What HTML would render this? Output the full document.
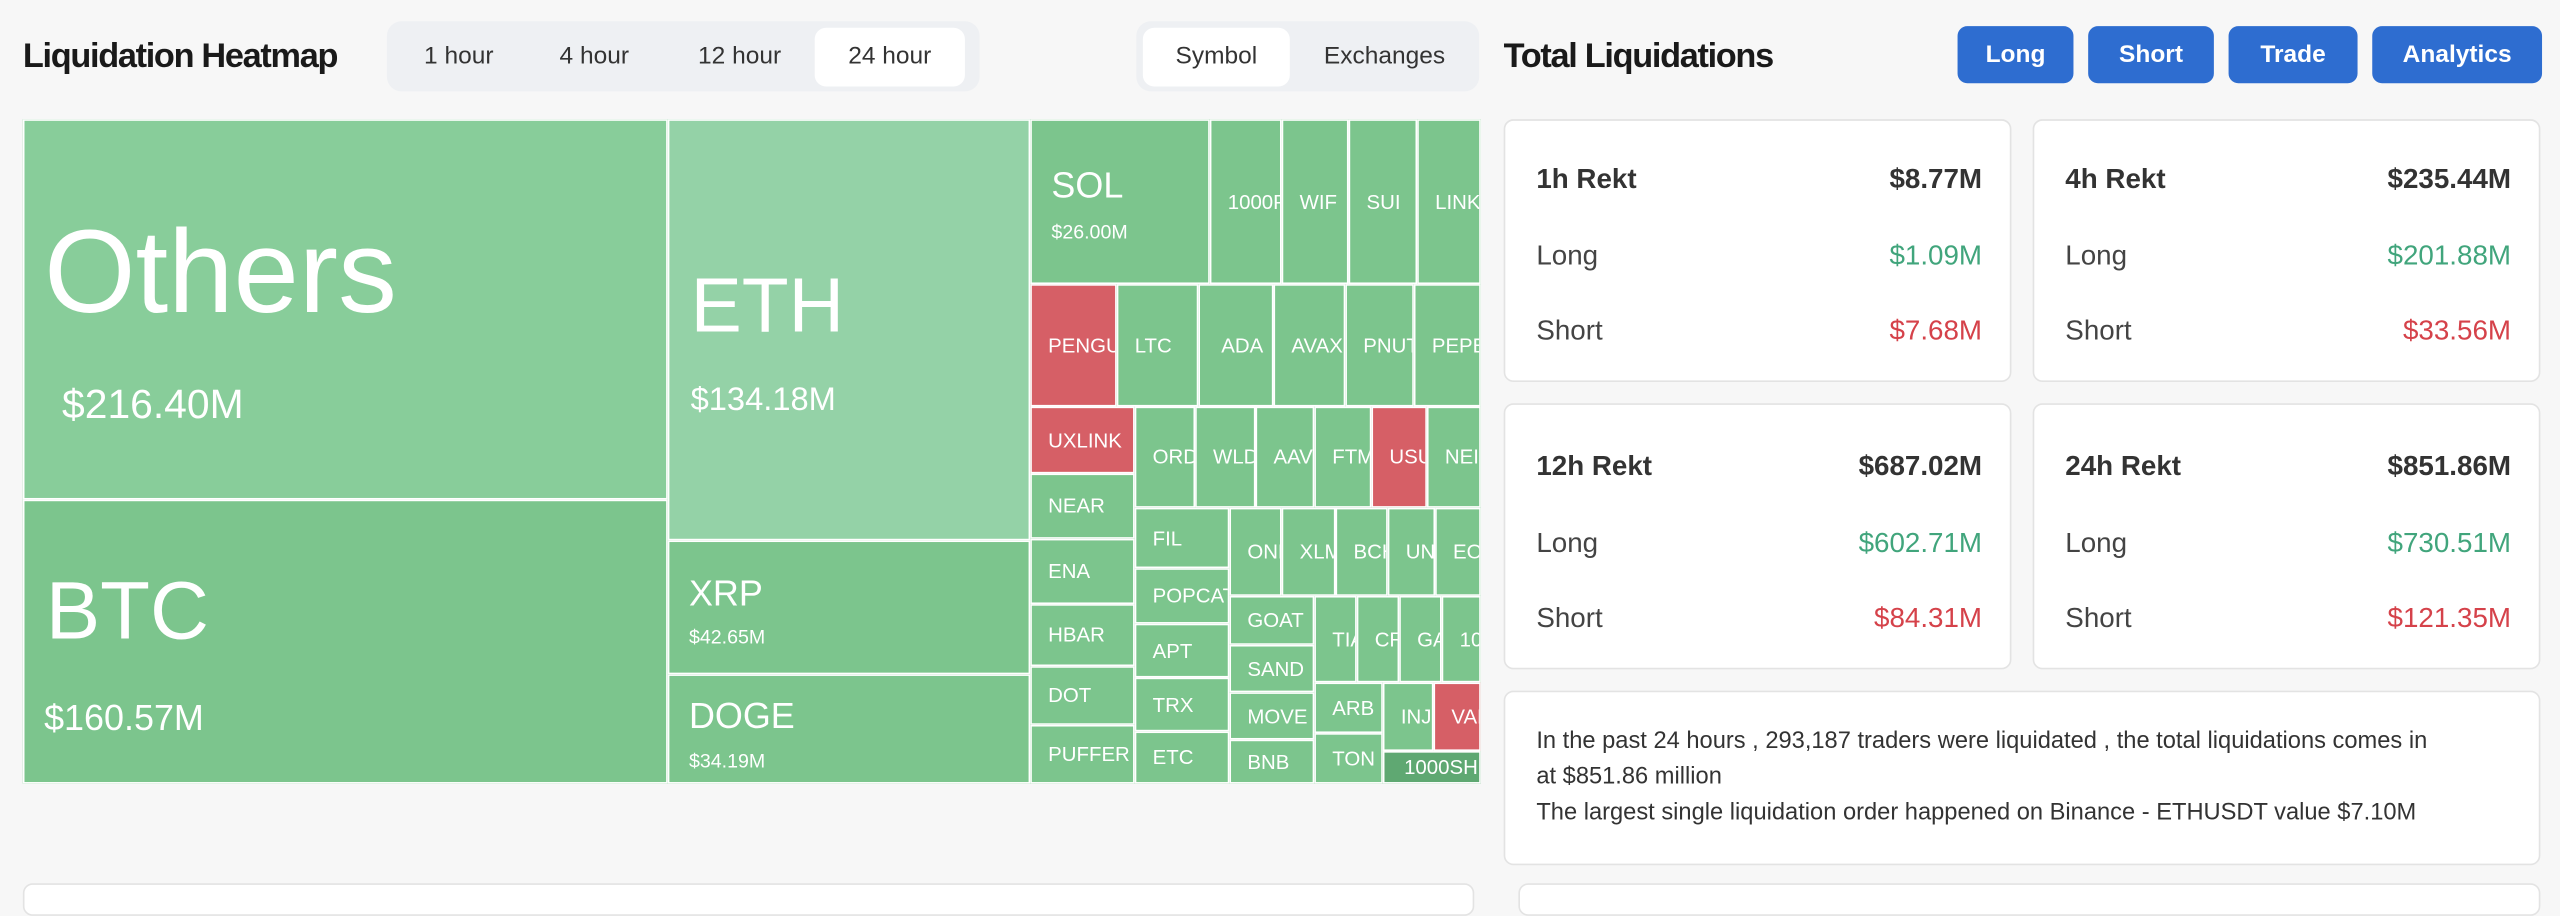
<!DOCTYPE html>
<html><head><meta charset="utf-8">
<style>
html,body{margin:0;padding:0;background:#f7f7f7;overflow:hidden}
#root{position:absolute;left:0;top:0;width:1568px;height:544px;transform:scale(1.632653);transform-origin:0 0;font-family:"Liberation Sans",sans-serif;color:#222;background:#f7f7f7}
.a{position:absolute}
.h{font-weight:bold;font-size:21px;letter-spacing:-0.8px;color:#1a1a1a}
.tabs{background:#eef0f3;border-radius:9px}
.tab{position:absolute;top:4px;height:36px;line-height:36px;text-align:center;font-size:15px;color:#333}
.act{background:#fff;border-radius:7px}
.btn{position:absolute;top:16px;height:35px;line-height:35px;background:#2e6dd0;color:#fff;font-weight:bold;font-size:15px;text-align:center;border-radius:6px}
.c{position:absolute;box-sizing:border-box;border:1px solid #fff;background:#7cc58d;color:#fff;overflow:hidden;white-space:nowrap;font-size:12.5px;padding-left:10px;display:flex;align-items:center}
.r{background:#d65f66}
.card{position:absolute;background:#fff;border:1px solid #e3e3e3;border-radius:6px;box-sizing:border-box}
.row{position:absolute;left:19px;right:17px;font-size:17px;color:#444;display:flex;justify-content:space-between}
.row b{font-weight:600;color:#333}
.g{color:#41a57c}.rd{color:#d5424a}
</style></head><body><div id="root">
<div class="a h" style="left:14px;top:23px">Liquidation Heatmap</div>
<div class="a tabs" style="left:237px;top:13px;width:363px;height:43px">
 <div class="tab" style="left:6px;width:76px">1 hour</div>
 <div class="tab" style="left:89px;width:76px">4 hour</div>
 <div class="tab" style="left:176px;width:80px">12 hour</div>
 <div class="tab act" style="left:262px;width:92px">24 hour</div>
</div>
<div class="a tabs" style="left:696px;top:13px;width:210px;height:43px">
 <div class="tab act" style="left:4px;width:90px">Symbol</div>
 <div class="tab" style="left:98px;width:108px">Exchanges</div>
</div>
<div class="a h" style="left:921px;top:23px">Total Liquidations</div>
<div class="btn" style="left:1199px;width:71px">Long</div>
<div class="btn" style="left:1279px;width:77px">Short</div>
<div class="btn" style="left:1365px;width:79px">Trade</div>
<div class="btn" style="left:1453px;width:104px">Analytics</div>

<div class="a" style="left:14px;top:73px;width:893px;height:407px;background:#7cc58d"></div>
<div class="c" style="left:14px;top:73px;width:395px;height:233px;background:#88cd9a;display:block;padding:0">
 <div class="a" style="left:12px;top:52px;font-size:72px">Others</div>
 <div class="a" style="left:23px;top:160px;font-size:25px">$216.40M</div></div>
<div class="c" style="left:14px;top:306px;width:395px;height:174px;display:block;padding:0">
 <div class="a" style="left:13px;top:38px;font-size:50px">BTC</div>
 <div class="a" style="left:12px;top:120px;font-size:22px">$160.57M</div></div>
<div class="c" style="left:409px;top:73px;width:222px;height:258px;background:#94d2a7;display:block;padding:0">
 <div class="a" style="left:13px;top:85px;font-size:47px">ETH</div>
 <div class="a" style="left:13px;top:160px;font-size:20px">$134.18M</div></div>
<div class="c" style="left:409px;top:331px;width:222px;height:82px;display:block;padding:0">
 <div class="a" style="left:12px;top:19px;font-size:22px">XRP</div>
 <div class="a" style="left:12px;top:51px;font-size:12px">$42.65M</div></div>
<div class="c" style="left:409px;top:413px;width:222px;height:67px;display:block;padding:0">
 <div class="a" style="left:12px;top:12px;font-size:22px">DOGE</div>
 <div class="a" style="left:12px;top:45px;font-size:12px">$34.19M</div></div>
<div class="c" style="left:631px;top:73px;width:110px;height:101px;display:block;padding:0">
 <div class="a" style="left:12px;top:27px;font-size:22px">SOL</div>
 <div class="a" style="left:12px;top:61px;font-size:12px">$26.00M</div></div>
<div class="c" style="left:741px;top:73px;width:44px;height:101px">1000PEPE</div>
<div class="c" style="left:785px;top:73px;width:41px;height:101px">WIF</div>
<div class="c" style="left:826px;top:73px;width:42px;height:101px">SUI</div>
<div class="c" style="left:868px;top:73px;width:39px;height:101px">LINK</div>
<div class="c r" style="left:631px;top:174px;width:53px;height:75px">PENGU</div>
<div class="c" style="left:684px;top:174px;width:50px;height:75px">LTC</div>
<div class="c" style="left:734px;top:174px;width:46px;height:75px;padding-left:13px">ADA</div>
<div class="c" style="left:780px;top:174px;width:44px;height:75px">AVAX</div>
<div class="c" style="left:824px;top:174px;width:42px;height:75px">PNUT</div>
<div class="c" style="left:866px;top:174px;width:41px;height:75px">PEPE</div>
<div class="c r" style="left:631px;top:249px;width:64px;height:41px">UXLINK</div>
<div class="c" style="left:631px;top:290px;width:64px;height:40px">NEAR</div>
<div class="c" style="left:631px;top:330px;width:64px;height:40px">ENA</div>
<div class="c" style="left:631px;top:370px;width:64px;height:38px">HBAR</div>
<div class="c" style="left:631px;top:408px;width:64px;height:36px">DOT</div>
<div class="c" style="left:631px;top:444px;width:64px;height:36px">PUFFER</div>
<div class="c" style="left:695px;top:249px;width:37px;height:62px">ORDI</div>
<div class="c" style="left:732px;top:249px;width:37px;height:62px">WLD</div>
<div class="c" style="left:769px;top:249px;width:36px;height:62px">AAVE</div>
<div class="c" style="left:805px;top:249px;width:35px;height:62px">FTM</div>
<div class="c r" style="left:840px;top:249px;width:34px;height:62px">USUAL</div>
<div class="c" style="left:874px;top:249px;width:33px;height:62px">NEIRO</div>
<div class="c" style="left:695px;top:311px;width:58px;height:37px">FIL</div>
<div class="c" style="left:695px;top:348px;width:58px;height:34px">POPCAT</div>
<div class="c" style="left:695px;top:382px;width:58px;height:33px">APT</div>
<div class="c" style="left:695px;top:415px;width:58px;height:33px">TRX</div>
<div class="c" style="left:695px;top:448px;width:58px;height:32px">ETC</div>
<div class="c" style="left:753px;top:311px;width:32px;height:54px">ONDO</div>
<div class="c" style="left:785px;top:311px;width:33px;height:54px">XLM</div>
<div class="c" style="left:818px;top:311px;width:32px;height:54px">BCH</div>
<div class="c" style="left:850px;top:311px;width:29px;height:54px">UNI</div>
<div class="c" style="left:879px;top:311px;width:28px;height:54px">EOS</div>
<div class="c" style="left:753px;top:365px;width:52px;height:30px">GOAT</div>
<div class="c" style="left:753px;top:395px;width:52px;height:29px">SAND</div>
<div class="c" style="left:753px;top:424px;width:52px;height:29px">MOVE</div>
<div class="c" style="left:753px;top:453px;width:52px;height:27px">BNB</div>
<div class="c" style="left:805px;top:365px;width:26px;height:53px">TIA</div>
<div class="c" style="left:831px;top:365px;width:26px;height:53px">CRV</div>
<div class="c" style="left:857px;top:365px;width:26px;height:53px">GALA</div>
<div class="c" style="left:883px;top:365px;width:24px;height:53px">1000SATS</div>
<div class="c" style="left:805px;top:418px;width:42px;height:31px">ARB</div>
<div class="c" style="left:805px;top:449px;width:42px;height:31px">TON</div>
<div class="c" style="left:847px;top:418px;width:31px;height:42px">INJ</div>
<div class="c r" style="left:878px;top:418px;width:29px;height:42px">VANA</div>
<div class="c" style="left:847px;top:460px;width:60px;height:20px;background:#5fa872;padding-left:12px">1000SHIB</div>

<div class="card" style="left:921px;top:73px;width:311px;height:161px">
 <div class="row" style="top:26px"><b>1h Rekt</b><b>$8.77M</b></div>
 <div class="row" style="top:73px"><span>Long</span><span class="g">$1.09M</span></div>
 <div class="row" style="top:119px"><span>Short</span><span class="rd">$7.68M</span></div></div>
<div class="card" style="left:1245px;top:73px;width:311px;height:161px">
 <div class="row" style="top:26px"><b>4h Rekt</b><b>$235.44M</b></div>
 <div class="row" style="top:73px"><span>Long</span><span class="g">$201.88M</span></div>
 <div class="row" style="top:119px"><span>Short</span><span class="rd">$33.56M</span></div></div>
<div class="card" style="left:921px;top:247px;width:311px;height:163px">
 <div class="row" style="top:28px"><b>12h Rekt</b><b>$687.02M</b></div>
 <div class="row" style="top:75px"><span>Long</span><span class="g">$602.71M</span></div>
 <div class="row" style="top:121px"><span>Short</span><span class="rd">$84.31M</span></div></div>
<div class="card" style="left:1245px;top:247px;width:311px;height:163px">
 <div class="row" style="top:28px"><b>24h Rekt</b><b>$851.86M</b></div>
 <div class="row" style="top:75px"><span>Long</span><span class="g">$730.51M</span></div>
 <div class="row" style="top:121px"><span>Short</span><span class="rd">$121.35M</span></div></div>
<div class="card" style="left:921px;top:423px;width:635px;height:107px">
 <div class="a" style="left:19px;top:19px;font-size:14.5px;line-height:22px;color:#333;white-space:nowrap">In the past 24 hours , 293,187 traders were liquidated , the total liquidations comes in<br>at $851.86 million<br>The largest single liquidation order happened on Binance - ETHUSDT value $7.10M</div></div>
<div class="card" style="left:14px;top:541px;width:889px;height:20px"></div>
<div class="card" style="left:930px;top:541px;width:626px;height:20px"></div>
</div></body></html>
